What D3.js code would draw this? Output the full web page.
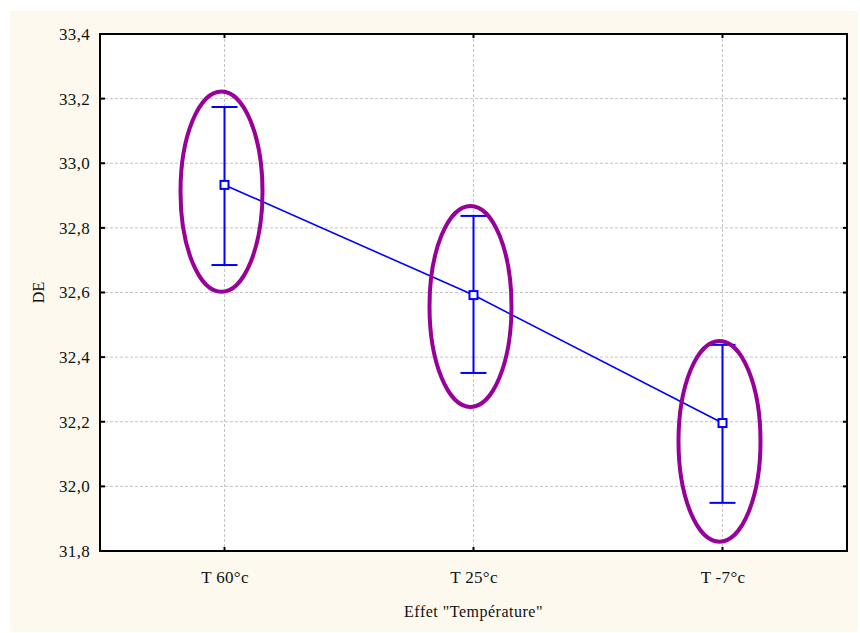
<!DOCTYPE html>
<html><head><meta charset="utf-8">
<script src="https://cdn.jsdelivr.net/npm/d3@7"></script>
<style>body{margin:0;background:#fff;}svg{display:block;}</style>
</head><body>
<svg id="c" width="860" height="633"></svg>
<script>
const categories = ["T 60°c", "T 25°c", "T -7°c"];
const means = [32.933, 32.592, 32.196];
const upper = [33.174, 32.837, 32.438];
const lower = [32.685, 32.351, 31.949];
const ellipseTop = [33.222, 32.868, 32.450];
const ellipseBottom = [32.602, 32.246, 31.829];
const yTicks = [31.8, 32.0, 32.2, 32.4, 32.6, 32.8, 33.0, 33.2, 33.4];
const xTitle = "Effet \"Température\"";
const yTitle = "DE";

const svg = d3.select("#c");
const L = 100, T = 34, R = 847, B = 551;
const font = "'Liberation Serif','Times New Roman',serif";

svg.append("rect").attr("x", 10).attr("y", 11).attr("width", 848).attr("height", 621).attr("fill", "#fdf9ee");
svg.append("rect").attr("x", L).attr("y", T).attr("width", R - L).attr("height", B - T).attr("fill", "#fff");

const x = d3.scalePoint().domain(categories).range([L, R]).padding(0.5);
const y = d3.scaleLinear().domain([31.8, 33.4]).range([B, T]);
const fmt = v => d3.format(".1f")(v).replace(".", ",");

// grid
const g = svg.append("g");
g.selectAll("line.hg").data(yTicks.slice(1, -1)).enter().append("line")
  .attr("x1", L).attr("x2", R).attr("y1", d => y(d)).attr("y2", d => y(d))
  .attr("stroke", "#c4c4c4").attr("stroke-width", 1).attr("stroke-dasharray", "3,2");
g.selectAll("line.vg").data(categories).enter().append("line")
  .attr("y1", T).attr("y2", B).attr("x1", d => x(d)).attr("x2", d => x(d))
  .attr("stroke", "#c4c4c4").attr("stroke-width", 1).attr("stroke-dasharray", "3,2");

// axes with inward ticks
const axL = svg.append("g").attr("transform", `translate(${L},0)`)
  .call(d3.axisLeft(y).tickValues(yTicks).tickFormat(fmt).tickSize(0).tickPadding(10));
axL.select(".domain").remove();
axL.selectAll("text").attr("font-family", font).attr("font-size", 17).attr("fill", "#111").attr("letter-spacing", 0.3);
svg.append("g").selectAll("line").data(yTicks).enter().append("line")
  .attr("x1", L).attr("x2", L + 5).attr("y1", d => y(d)).attr("y2", d => y(d)).attr("stroke", "#000").attr("stroke-width", 2);
svg.append("g").selectAll("line").data(yTicks).enter().append("line")
  .attr("x1", R).attr("x2", R - 4).attr("y1", d => y(d)).attr("y2", d => y(d)).attr("stroke", "#000").attr("stroke-width", 2);

const axB = svg.append("g").attr("transform", `translate(0,${B})`)
  .call(d3.axisBottom(x).tickSize(0).tickPadding(20));
axB.select(".domain").remove();
axB.selectAll("text").attr("font-family", font).attr("font-size", 17).attr("fill", "#111").attr("letter-spacing", 0.3);
svg.append("g").selectAll("line").data(categories).enter().append("line")
  .attr("x1", d => x(d)).attr("x2", d => x(d)).attr("y1", B).attr("y2", B - 4).attr("stroke", "#000").attr("stroke-width", 2);
svg.append("g").selectAll("line").data(categories).enter().append("line")
  .attr("x1", d => x(d)).attr("x2", d => x(d)).attr("y1", T).attr("y2", T + 4).attr("stroke", "#000").attr("stroke-width", 2);

svg.append("rect").attr("x", L).attr("y", T).attr("width", R - L).attr("height", B - T)
  .attr("fill", "none").attr("stroke", "#000").attr("stroke-width", 2);

// titles
svg.append("text").attr("x", (L + R) / 2).attr("y", 617).attr("text-anchor", "middle")
  .attr("font-family", font).attr("font-size", 16).attr("letter-spacing", 0.5).attr("fill", "#111").text(xTitle);
svg.append("text").attr("transform", `translate(44,${(T + B) / 2}) rotate(-90)`).attr("text-anchor", "middle")
  .attr("font-family", font).attr("font-size", 16).attr("fill", "#111").text(yTitle);

// data
const data = categories.map((c, i) => ({c, m: means[i], u: upper[i], l: lower[i], et: ellipseTop[i], eb: ellipseBottom[i]}));
const blue = "#0000ff";
svg.append("path").datum(data)
  .attr("d", d3.line().x(d => x(d.c)).y(d => y(d.m)))
  .attr("fill", "none").attr("stroke", blue).attr("stroke-width", 1.6);
const eb = svg.append("g").selectAll("g").data(data).enter().append("g");
eb.append("line").attr("x1", d => x(d.c)).attr("x2", d => x(d.c)).attr("y1", d => y(d.u)).attr("y2", d => y(d.l))
  .attr("stroke", blue).attr("stroke-width", 2);
eb.append("line").attr("x1", d => x(d.c) - 13).attr("x2", d => x(d.c) + 13).attr("y1", d => y(d.u)).attr("y2", d => y(d.u))
  .attr("stroke", blue).attr("stroke-width", 2);
eb.append("line").attr("x1", d => x(d.c) - 13).attr("x2", d => x(d.c) + 13).attr("y1", d => y(d.l)).attr("y2", d => y(d.l))
  .attr("stroke", blue).attr("stroke-width", 2);
eb.append("rect").attr("x", d => x(d.c) - 4).attr("y", d => y(d.m) - 4).attr("width", 8).attr("height", 8)
  .attr("fill", "#fff").attr("stroke", blue).attr("stroke-width", 2);

// ellipses
svg.append("g").selectAll("ellipse").data(data).enter().append("ellipse")
  .attr("cx", d => x(d.c) - 3)
  .attr("cy", d => (y(d.et) + y(d.eb)) / 2)
  .attr("rx", 41)
  .attr("ry", d => (y(d.eb) - y(d.et)) / 2)
  .attr("fill", "none").attr("stroke", "#990099").attr("stroke-width", 4);
</script>
</body></html>
